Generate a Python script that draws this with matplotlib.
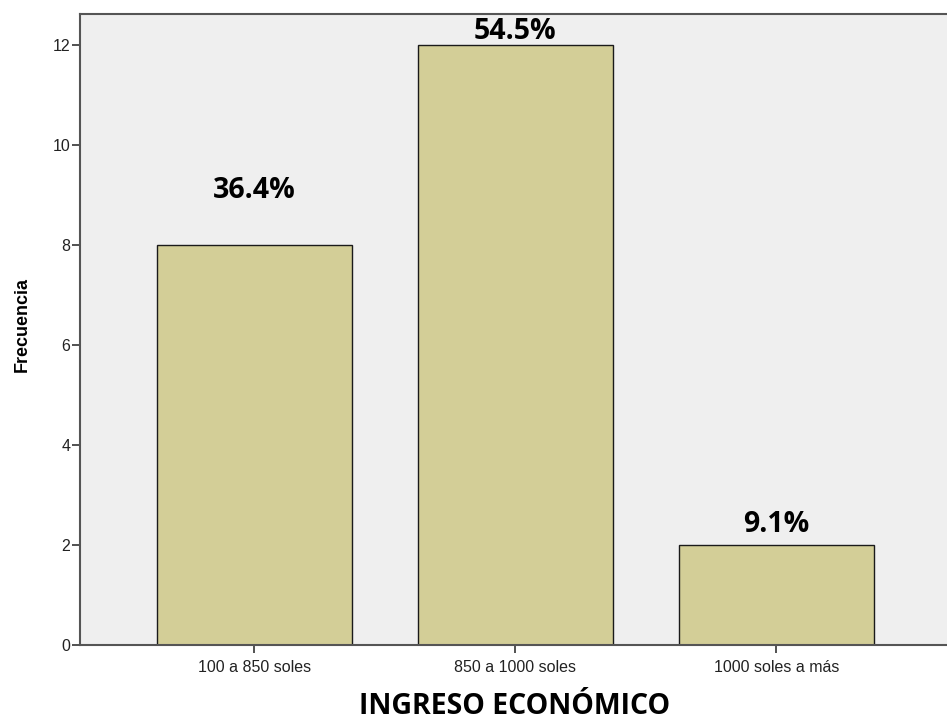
import matplotlib
matplotlib.use("Agg")
import matplotlib.pyplot as plt
from matplotlib import font_manager

categories = ["100 a 850 soles", "850 a 1000 soles", "1000 soles a más"]
frequencies = [8, 12, 2]
percent_labels = ["36.4%", "54.5%", "9.1%"]
label_heights = [9.1, 12.26, 2.4]
yticks = [0, 2, 4, 6, 8, 10, 12]

def pick(names):
    avail = {f.name for f in font_manager.fontManager.ttflist}
    for n in names:
        if n in avail:
            return n
    return "DejaVu Sans"

arial = pick(["Liberation Sans", "DejaVu Sans"])
calib = pick(["Open Sans", "Lato", "DejaVu Sans"])

fig = plt.figure(figsize=(9.47, 7.25), dpi=100)
ax = fig.add_axes([80/947, 80/725, 1 - 80/947, (645-14)/725])
ax.set_facecolor("#efefef")

x = list(range(len(categories)))
ax.bar(x, frequencies, width=0.747, color="#d3ce97", edgecolor="#1a1a1a", linewidth=1.0, zorder=2)

ax.set_xlim(-0.668, -0.668 + 867/261)
ax.set_ylim(0, 12.62)
ax.set_yticks(yticks)
ax.set_yticklabels([str(v) for v in yticks], fontsize=11.5, family=arial, color="#222222")
ax.set_xticks(x)
ax.set_xticklabels(categories, fontsize=11.5, family=arial, color="#222222")
ax.tick_params(axis="both", direction="out", length=6, width=1.2, color="#333333")
ax.tick_params(axis="x", pad=5)
ax.tick_params(axis="y", pad=1)

for s in ["left", "bottom", "top"]:
    ax.spines[s].set_color("#555555")
    ax.spines[s].set_linewidth(1.5)
ax.spines["right"].set_visible(False)

for xi, lab, h in zip(x, percent_labels, label_heights):
    ax.text(xi, h, lab, ha="center", va="center", fontsize=20.5, fontweight="bold", family=calib, color="black")

fig.text(22/947, 1 - 325/725, "Frecuencia", rotation=90, ha="center", va="center",
         fontsize=13, fontweight="bold", family=arial)
fig.text(515/947, 1 - 706/725, "INGRESO ECONÓMICO", ha="center", va="center",
         fontsize=20.5, fontweight="bold", family=calib)

fig.savefig("out.png", dpi=100)
